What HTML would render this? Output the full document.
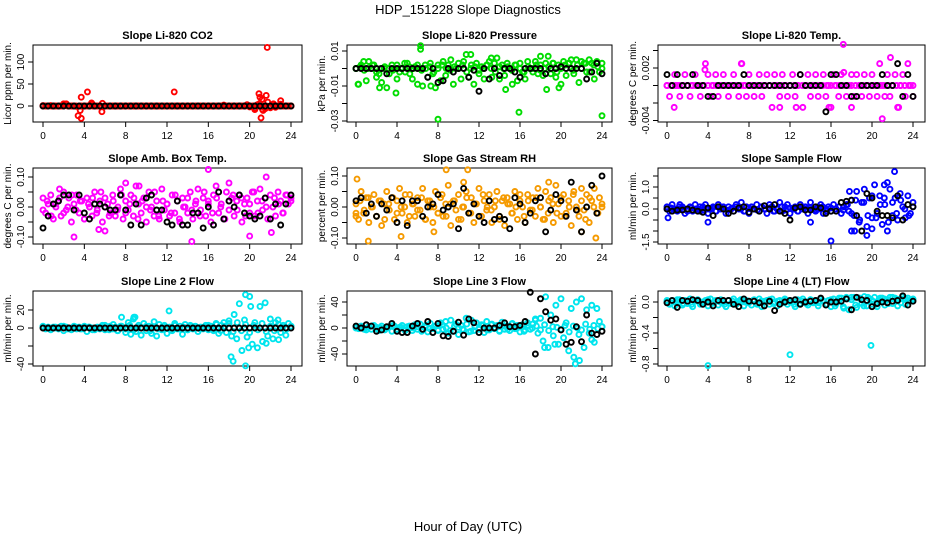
<!DOCTYPE html>
<html><head><meta charset="utf-8"><style>
html,body{margin:0;padding:0;background:#fff;}
svg{display:block;font-family:"Liberation Sans",Arial,sans-serif;}
</style></head><body>
<svg id="chart" width="936" height="540" viewBox="0 0 936 540">
<text x="468" y="14" text-anchor="middle" font-size="13">HDP_151228  Slope Diagnostics</text>
<text x="468" y="531" text-anchor="middle" font-size="13">Hour of Day (UTC)</text>
</svg>
<script>
// ---- data (values per panel; hours spread evenly over 0-24 for regular series) ----
const xTicks = [0,4,8,12,16,20,24];

const co2Vals = [1,0,0,1,0,0,0,0,3,5,0,0,0,-1,0,0,0,0,0,4,0,0,0,6,0,0,0,0,0,0,0,0,0,0,0,0,0,0,0,0,0,0,0,0,0,0,0,0,0,0,0,0,0,0,0,0,0,0,0,0,0,0,0,0,0,0,0,0,0,0,2,0,0,0,0,0,0,0,0,3,-2,0,-5,3,6,-8,-6,9,-4,3,-3,0,4,0,0,0,0];
const co2Vals2 = [0,0,0,0,0,0,0,0,0,0,0,0,0,0,0,0,0,0,0,0,0,0,0,0,0,0,0,0,0,0,0,0,0,0,0,0,0,0,0,0,0,0,0,0,0,0,0,0,0,0,0,0,0,0,0,0,0,0,0,0,0];
const co2OutHours = [3.4,3.6,3.7,3.7,4.3,4.7,5.7,2.0,12.7,20.9,21.0,21.1,21.2,21.3,21.6,21.7,23.0,20.5,21.5,22.3];
const co2OutVals = [-22,-10,-28,20,32,7,-13,5,32,28,20,-27,15,-10,24,133,12,-8,-5,5];
const co2RefVals = [0,0,0,0,0,0,0,0,0,0,0,0,0,0,0,0,0,0,0,0,0,0,0,0,0,0,0,0,0,0,0,0,0,0,0,0,0,0,0,0,0,0,0,0,0,0,0,0,0];

const presVals = [0,-0.009,0.002,0.004,-0.007,0.004,0,0.002,-0.005,-0.003,-0.008,0,-0.011,-0.003,0.002,0,-0.006,-0.002,0,0.003,0.003,-0.003,-0.006,0.001,-0.009,0,-0.01,0.002,-0.005,0.003,-0.003,-0.011,0.002,-0.007,0.004,-0.004,0.002,0.005,-0.009,0,0.003,-0.006,0.004,0.008,-0.005,0.002,-0.009,0.003,-0.003,0.001,-0.006,0.002,0.004,-0.005,0.003,0.006,-0.006,0.002,-0.004,0.003,0,-0.009,0.002,-0.007,0.003,-0.002,-0.006,0.004,0,-0.002,0.004,-0.003,0.002,-0.004,0.003,0.007,-0.003,0.003,-0.005,0.002,-0.009,0.004,-0.004,0.003,0.005,-0.003,0.005,-0.008,0.004,0.003,-0.002,0.005,0.003,-0.006,0.004,-0.002,0.003];
const presVals2 = [0,0.001,-0.001,0,0.002,-0.002,0,0.001,0,-0.001,0.002,0,-0.002,0.001,0,0.002,-0.001,0,0.001,-0.002,0,0.002,0,-0.001,0.001,0,0.002,-0.002,0,0.001,-0.001,0,0.002,0,-0.002,0.001,0,0.001,-0.001,0.002,0,-0.002,0.001,0,0.002,-0.001,0,0.001,0.003,-0.002,0,0.002,0.003,-0.001,0.002,0,0.003,-0.002,0.002,0.001,0];
const presOutHours = [6.3,6.3,8.0,15.9,24.0,3.9,11.2,18.0,13.2,0.2,2.3,18.6,19.8,7.3,14.6];
const presOutVals = [0.013,0.011,-0.029,-0.025,-0.027,-0.014,0.008,0.007,0.006,-0.009,-0.011,-0.012,-0.011,-0.010,-0.012];
const presRefVals = [0,0,0,0,0,0,-0.003,0,0,0,0,0,0,0,-0.005,0,-0.008,-0.007,0,-0.002,0,0,-0.005,-0.001,-0.013,0,-0.006,0,-0.004,0,0,-0.002,-0.005,0,0,0,0,-0.003,0,0,0.001,0,0,0,0,-0.006,-0.002,0.003,-0.003];

const tempVals = [0,-0.00125,0,0.00125,0,-0.00125,0,0.00125,0,-0.00125,0,0.00125,0,-0.00125,0,0.0025,0.00125,-0.00125,0,0.00125,-0.00125,0,0.00125,0,-0.00125,0,0.00125,0,-0.00125,0.0025,0,-0.00125,0.00125,0,-0.00125,0,0.00125,-0.00125,0,0.00125,0,-0.0025,0.00125,0,-0.00125,0.00125,0,-0.00125,0,0.00125,-0.00125,0,0.00125,-0.0025,0,0.00125,-0.00125,0,0.00125,-0.00125,0,0.00125,-0.00125,0,-0.0025,0.00125,0,-0.00125,0.00125,0.0015,-0.00125,0,0.00125,-0.00125,0.00125,0,-0.00125,0.00125,0,-0.00125,0.00125,0,-0.00125,0.0025,0,-0.00125,0.00125,-0.00125,0,0.00125,-0.0025,0,0.00125,-0.00125,0.0025,0,-0.00125];
const tempVals2 = [0,0,0,0,0,0,0,0,0,0,0,0,0,0,0,0,0,0,0,0,0,0,0,0,0,0,0,0,0,0,0,0,0,0,0,0,0,0,0,0,0,0,0,0,0,0,0,0,0,0,0,0,0,0,0,0,0,0,0,0,0];
const tempOutHours = [17.2,21.0,21.8,0.7,11.0,12.6,15.8,18.0,22.6,7.3,3.7];
const tempOutVals = [0.0047,-0.0038,0.0032,-0.0025,-0.0025,-0.0025,-0.0025,-0.0025,-0.0025,0.0025,0.0018];
const tempRefVals = [0.00125,0,0.00125,0,0,0.00125,0,0,-0.00125,-0.00125,0,0,0,0,0,0.00125,0,0,0,0,0,0,0,0,0,0,0.00125,0,0,0,0,-0.003,0.00125,0.00125,0,0,-0.00125,-0.00125,0,0,0,0,0.00125,0,0,0.0025,-0.00125,0.00125,-0.00125];

const ambVals = [0.03,-0.02,0.01,0.04,-0.04,0,0.02,-0.03,0.05,-0.01,0.03,-0.05,0.01,0.04,-0.02,0.02,-0.04,0.03,0,-0.03,0.05,-0.01,0.02,-0.05,0.03,0.01,-0.02,0.04,-0.03,0,0.06,-0.04,0.02,-0.01,0.04,-0.03,0.07,0.01,-0.02,0.03,-0.05,0.05,0,-0.03,0.02,-0.04,0.06,-0.01,0.01,-0.03,0.04,-0.02,0.02,-0.05,0.03,0,-0.02,0.05,-0.04,0.01,0.06,-0.01,0.03,-0.03,0.02,-0.05,0.04,0.07,-0.02,0.01,-0.04,0.05,-0.01,0.03,-0.03,0.02,0.04,-0.05,0.01,0.03,-0.02,0.05,-0.03,0.02,0.06,-0.01,0.03,-0.04,0.04,0,-0.03,0.05,0.02,-0.02,0.04,0.01,0.03];
const ambVals2 = [-0.01,0.02,-0.03,0.01,0.03,-0.02,0,0.04,-0.01,0.02,-0.04,0.01,0.03,-0.02,0.05,0,-0.03,0.02,-0.01,0.04,-0.02,0.01,0.03,-0.04,0.02,0,-0.01,0.05,-0.03,0.02,0.01,-0.02,0.04,-0.04,0,0.03,-0.01,0.02,-0.03,0.05,0.01,-0.02,0.03,0,-0.04,0.02,0.04,-0.01,0.03,-0.03,0.01,0.05,-0.02,0.02,0,-0.04,0.03,0.01,-0.02,0.04,0.02];
const ambOutHours = [16.0,21.6,3.0,20.0,14.4,22.1,5.4,6.0,8.0,9.3,18.0,1.6];
const ambOutVals = [0.125,0.10,-0.10,-0.097,-0.115,-0.085,-0.075,-0.08,0.08,0.07,0.08,0.06];
const ambRefVals = [-0.07,-0.03,0.01,0.02,0.04,0.04,-0.01,0.04,-0.02,-0.04,0.01,0.01,0,-0.01,-0.01,0.04,-0.01,-0.06,0.01,-0.06,0.03,0.04,-0.01,-0.01,-0.05,-0.06,0.02,-0.06,-0.06,-0.02,-0.02,-0.07,0,-0.06,0.05,-0.04,0.02,0,0.04,-0.02,-0.03,-0.04,-0.03,0.03,-0.04,0.01,-0.06,0.01,0.04];

const rhVals = [0.01,-0.04,0.05,-0.02,0.03,-0.05,0,0.04,-0.03,0.02,-0.06,0.01,0.05,-0.01,0.03,-0.04,0.02,0.06,-0.02,0,-0.05,0.04,0.01,-0.03,0.03,-0.01,0.06,-0.04,0.02,0,-0.05,0.05,-0.02,0.03,-0.03,0.01,0.07,-0.06,0.02,-0.01,0.04,-0.04,0,0.05,-0.02,0.03,-0.05,0.01,0.06,-0.03,0.02,-0.01,0.04,-0.05,0,0.05,-0.03,0.02,-0.06,0.03,0.01,-0.02,0.05,-0.04,0.02,0,-0.05,0.04,-0.01,0.03,-0.03,0.06,0,-0.04,0.05,-0.02,0.03,-0.05,0.07,0.01,-0.03,0.04,-0.02,0.02,-0.06,0.05,0,-0.03,0.06,-0.01,0.04,-0.05,0.02,0.06,-0.02,0.03,0];
const rhVals2 = [-0.02,0.02,-0.01,0.03,0,-0.03,0.02,-0.04,0.01,0.03,-0.02,0,0.04,-0.03,0.01,-0.01,0.03,-0.04,0.02,0,-0.02,0.04,-0.03,0.01,0.02,-0.04,0,0.03,-0.02,0.01,-0.03,0.04,0,-0.01,0.02,-0.04,0.03,0.01,-0.02,0,0.04,-0.03,0.02,-0.01,0.03,0,-0.04,0.02,0.01,-0.02,0.03,-0.03,0,0.04,-0.01,0.02,-0.04,0.03,0,-0.02,0.01];
const rhOutHours = [0.1,8.8,10.9,1.2,23.4,4.4,7.6,0,10.5,22.0,18.8];
const rhOutVals = [0.09,0.12,0.12,-0.11,-0.10,-0.095,-0.08,-0.03,0.08,-0.08,0.08];
const rhRefVals = [0.02,0.03,-0.02,0.01,-0.03,0.01,-0.01,0.03,-0.05,0.02,-0.06,0.02,0.02,-0.03,0,0.01,0.04,-0.01,0,0.01,-0.07,0.06,-0.02,0.01,-0.03,-0.05,0.02,-0.04,-0.03,-0.04,-0.07,0.03,0.01,-0.05,-0.02,0.02,0.03,-0.08,-0.01,0.04,0.02,-0.03,0.08,-0.01,-0.08,0,0.07,-0.02,0.10];

const flowVals = [0.1,-0.1,0.2,0,-0.1,0.2,0.1,-0.2,0,0.1,-0.1,0.2,0,-0.1,0.1,0.2,-0.2,0,0.1,-0.1,0.2,0,0.1,-0.2,0.1,0,-0.1,0.2,0,0.3,-0.1,0.1,-0.2,0.1,0,0.2,-0.1,0.1,0,-0.2,0.2,0.1,-0.1,0,0.3,-0.1,0.1,0.2,-0.2,0,0.1,-0.1,0.2,0,0.1,-0.2,0.3,0,-0.1,0.1,0.2,-0.2,0,0.1,-0.1,0.2,0,0.1,-0.2,0.1,0.2,-0.1,0.4,-0.3,0.8,-0.6,0.3,0.9,-0.8,0.5,-0.4,1.1,-0.2,0.6,-0.7,0.2,-1.0,0.9,-0.3,0.5,-0.5,0.7,0.1,-0.4,0.6,-0.2,0.3];
const flowVals2 = [0,0.05,-0.05,0.1,0,-0.1,0.05,0,0.1,-0.05,0,0.05,-0.1,0.1,0,-0.05,0.05,0.1,0,-0.1,0.05,0,-0.05,0.1,0,0.05,-0.1,0,0.1,-0.05,0.05,0,-0.1,0.1,0,0.05,-0.05,0,0.1,-0.1,0.05,0,0.1,-0.05,0.2,-0.2,0.4,-0.5,0.3,-0.3,0.6,-0.4,0.2,0.5,-0.6,0.3,-0.2,0.4,0,-0.3,0.1];
const flowOutHours = [16.0,22.2,18.0,18.3,21.2,21.5,19.5,0.1,4.0,14.0,20.0,17.8];
const flowOutVals = [-1.45,1.7,-1.0,-1.0,1.1,1.2,-1.2,-0.4,-0.6,-0.6,-0.9,0.8];
const flowRefVals = [0,-0.1,-0.05,-0.05,0,-0.05,-0.1,-0.15,0.05,-0.3,0.1,0,-0.2,-0.1,0.05,0.1,-0.15,0,-0.1,0.15,0,0.2,-0.1,-0.2,-0.5,0.05,0.1,-0.05,-0.05,0.1,0.05,-0.2,-0.1,-0.1,0.3,0.35,0.4,-0.3,-1.0,0.7,0.5,-0.1,-0.3,-0.3,-0.4,0.6,-0.5,0.2,0.1];

const line2Vals = [2,-1,1,-2,1,0,-1,2,-3,1,0,-2,2,-1,1,-1,2,-4,1,0,-2,1,-1,3,-2,0,2,-1,1,-3,2,0,-5,6,-7,10,-4,3,-8,5,-3,2,-6,7,-9,4,-2,3,-6,1,-3,5,-1,2,-7,4,-2,3,-1,2,-4,1,-1,3,-2,2,-3,5,-6,3,6,-5,8,-9,15,-12,27,-25,9,-10,35,-18,6,-22,24,-15,28,-9,10,-12,6,9,-5,3,-8,5,2];
const line2Vals2 = [1,0,-1,1,0,2,-1,0,1,-1,0,1,-2,0,1,3,-2,4,-3,2,-1,3,-2,1,0,2,-3,1,-1,2,0,-2,3,-1,1,-2,2,0,-1,1,3,-2,4,-3,2,5,-4,6,-3,4,-5,3,-2,5,-4,2,-3,4,1,-1,2];
const line2OutHours = [8.8,8.9,12.2,7.6,18.2,19.6,19.9,20.1,21.6,22.8,18.4,19.6];
const line2OutVals = [12,12,19,12,-32,37,-22,24,-17,-13,-37,-42];
const line2RefVals = [0,0,0,0,0,0,0,0,0,0,0,0,0,0,0,0,0,0,0,0,0,0,0,0,0,0,0,0,0,0,0,0,0,0,0,0,0,0,0,0,0,0,0,0,0,0,0,0,0];

const line3Vals = [2,-1,3,0,-3,2,-2,4,1,-4,3,-1,0,2,-5,3,-2,1,4,-3,2,0,-4,5,-2,6,-3,1,-6,7,-1,3,-4,8,-2,10,-8,12,-5,6,-10,4,-3,15,-6,12,-4,8,-2,5,-7,10,-3,6,-1,4,-5,9,-2,3,-4,7,-1,4,-6,5,-3,8,-2,6,12,-8,15,-20,48,-30,20,-12,35,-25,45,-15,8,-35,30,-45,40,-10,45,-30,28,-8,35,-22,30,10,2];
const line3Vals2 = [0,2,-2,1,3,-1,0,-3,2,4,-2,1,-4,3,0,2,-5,4,-1,2,-3,5,0,-4,3,1,-2,6,-5,2,-1,4,-3,5,0,-4,3,-2,6,-1,2,-5,4,0,3,-3,5,-4,2,1,-2,4,-6,3,0,-3,6,-2,4,-1,2];
const line3OutHours = [21.4,21.8,18.4,19.4,17.5,23.0];
const line3OutVals = [-55,-50,-30,-25,14,-18];
const line3RefVals = [3,0,5,3,-5,-3,2,7,-5,-7,-7,3,7,-2,10,-7,7,-12,-13,-5,9,-11,14,8,-7,0,0,0,4,8,2,2,4,10,55,-40,45,25,12,14,-3,-25,-22,2,-21,20,-8,-10,-5];

const lt4Vals = [0,-0.03,0.02,-0.05,0.03,0,-0.04,0.02,-0.02,0.04,-0.06,0.01,0.03,-0.03,0,0.02,-0.05,0.04,-0.01,0.02,-0.04,0.03,0,-0.06,0.02,-0.02,0.04,-0.03,0.01,0.03,-0.05,0.02,0,-0.04,0.03,-0.02,0.04,-0.06,0.01,0.02,-0.03,0.04,0,-0.05,0.02,-0.01,0.04,-0.03,0.02,0,-0.06,0.03,-0.02,0.04,0,-0.04,0.03,-0.01,0.02,-0.05,0.04,0.01,-0.03,0.02,-0.06,0.04,-0.02,0.01,0.05,-0.08,0.06,-0.1,0.03,0.06,-0.07,0.05,-0.02,0.07,-0.05,0.04,-0.03,0.06,-0.06,0.02,0.05,-0.04,0.03,0.06,-0.02,0.05,-0.05,0.04,0.07,-0.03,0.05,0.01,0.03];
const lt4Vals2 = [0.02,-0.01,0,0.03,-0.02,0.01,-0.03,0.02,0,-0.01,0.03,-0.02,0.01,0,-0.03,0.02,0.01,-0.02,0.03,0,-0.01,0.02,-0.03,0.01,0,0.03,-0.02,0.01,-0.01,0.02,0,-0.03,0.02,0.01,-0.02,0.03,0,-0.01,0.02,-0.03,0.03,-0.05,0.05,-0.06,0.04,0.06,-0.04,0.05,-0.05,0.06,0.02,-0.03,0.05,0.04,-0.02,0.06,0.03,-0.01,0.05,0.02,0.04];
const lt4OutHours = [4.0,12.0,19.9];
const lt4OutVals = [-0.82,-0.68,-0.56];
const lt4RefVals = [-0.01,0.02,-0.07,0.02,0.01,0.03,0.02,-0.03,0,-0.05,0.02,0.02,0.02,-0.03,-0.06,0.04,0.01,0.01,-0.01,-0.05,0.01,-0.11,-0.03,0,0.02,0.03,-0.03,0,0.01,0.02,0.05,-0.04,0,0,0.01,0.04,-0.1,0.06,0.03,0.02,-0.06,-0.02,0,-0.01,0.01,0.02,0.08,-0.04,0.01];

// ---- layout ----
const svg = document.getElementById('chart');
const NS = 'http://www.w3.org/2000/svg';
function mk(tag, attrs, parent){ const e=document.createElementNS(NS,tag); for(const k in attrs) e.setAttribute(k,attrs[k]); (parent||svg).appendChild(e); return e; }

const cols = [{L:33,R:302,x0:43,x1:291},{L:347,R:612,x0:356,x1:602},{L:658,R:925,x0:667,x1:913}];
const rows = [{T:45,B:122},{T:168,B:244},{T:291,B:366}];

function panel(name, title, ylab, col, row, yv0, yp0, yv1, yp1, ticks, labels){
  const c=cols[col], r=rows[row];
  const g=mk('g',{});
  
  
  const sx=h=>c.x0+(c.x1-c.x0)*h/24;
  const sy=v=>yp0+(v-yv0)*(yp1-yp0)/(yv1-yv0);
  const t=mk('text',{x:(c.L+c.R)/2,y:r.T-6,'text-anchor':'middle','font-size':11,'font-weight':'bold'},g);
  t.textContent=title;
  
  
  const box=mk('rect',{x:c.L,y:r.T,width:c.R-c.L,height:r.B-r.T,fill:'none',stroke:'#000','stroke-width':1},g);
  
  
  xTicks.forEach(h=>{
    mk('line',{x1:sx(h),x2:sx(h),y1:r.B,y2:r.B+5,stroke:'#000'},g);
    const tl=mk('text',{x:sx(h),y:r.B+17,'text-anchor':'middle','font-size':10},g);
    tl.textContent=h;
    
    
  });
  ticks.forEach((v,i)=>{
    const y=sy(v);
    mk('line',{x1:c.L-5,x2:c.L,y1:y,y2:y,stroke:'#000'},g);
    if(labels[i]!==''){
      const yl=mk('text',{x:0,y:0,'text-anchor':'middle','font-size':10,transform:`translate(${c.L-9},${y}) rotate(-90)`},g);
      yl.textContent=labels[i];
      
      
    }
  });
  const yt=mk('text',{x:0,y:0,'text-anchor':'middle','font-size':10,transform:`translate(${c.L-22},${(r.T+r.B)/2}) rotate(-90)`},g);
  yt.textContent=ylab;
  
  
  return {g,sx,sy};
}
function series(p, vals, color, name, hours){
  const sg=mk('g',{fill:'none',stroke:color,'stroke-width':1.9},p.g);
  
  
  vals.forEach((v,i)=>{
    const h = hours ? hours[i] : i*24/(vals.length-1);
    const pt=mk('circle',{cx:p.sx(h),cy:p.sy(v),r:2.5},sg);
    
    
  });
}
function build(name,title,ylab,col,row,yv0,yp0,yv1,yp1,ticks,labels,color,vals,vals2,outH,outV,ref){
  const p=panel(name,title,ylab,col,row,yv0,yp0,yv1,yp1,ticks,labels);
  series(p,vals,color,name+'-series');
  series(p,vals2,color,name+'-series-b');
  series(p,outV,color,name+'-outliers',outH);
  series(p,ref,'#000',name+'-reference');
}
const mag='#ff00ff', cyan='#00e5ee';
build('co2','Slope Li-820 CO2','Licor ppm per min.',0,0,0,106,100,62,[0,50,100],['0','50','100'],'#ff0000',co2Vals,co2Vals2,co2OutHours,co2OutVals,co2RefVals);
build('pressure','Slope Li-820 Pressure','kPa per min.',1,0,0.01,51,-0.01,86,[0.01,0,-0.01,-0.02,-0.03],['0.01','','-0.01','','-0.03'],'#00dd00',presVals,presVals2,presOutHours,presOutVals,presRefVals);
build('li820-temp','Slope Li-820 Temp.','degrees C per min.',2,0,0,85.5,0.002,68,[-0.004,-0.002,0,0.002,0.004],['-0.004','','','0.002',''],mag,tempVals,tempVals2,tempOutHours,tempOutVals,tempRefVals);
build('amb-box-temp','Slope Amb. Box Temp.','degrees C per min.',0,1,0,207,0.1,177,[-0.1,-0.05,0,0.05,0.1],['-0.10','','0.00','','0.10'],mag,ambVals,ambVals2,ambOutHours,ambOutVals,ambRefVals);
build('gas-stream-rh','Slope Gas Stream RH','percent per min.',1,1,0,207,0.1,176,[-0.1,-0.05,0,0.05,0.1],['-0.10','','0.00','','0.10'],'#f59a00',rhVals,rhVals2,rhOutHours,rhOutVals,rhRefVals);
build('sample-flow','Slope Sample Flow','ml/min per min.',2,1,0,209,1,187,[-1.5,-1,-0.5,0,0.5,1,1.5],['-1.5','','','0.0','','1.0',''],'#0000ff',flowVals,flowVals2,flowOutHours,flowOutVals,flowRefVals);
build('line2-flow','Slope Line 2 Flow','ml/min per min.',0,2,0,328,20,310,[-40,-20,0,20],['-40','','0','20'],cyan,line2Vals,line2Vals2,line2OutHours,line2OutVals,line2RefVals);
build('line3-flow','Slope Line 3 Flow','ml/min per min.',1,2,0,328,40,302,[-40,-20,0,20,40],['-40','','0','','40'],cyan,line3Vals,line3Vals2,line3OutHours,line3OutVals,line3RefVals);
build('line4-flow','Slope Line 4 (LT) Flow','ml/min per min.',2,2,0,302,-0.4,333,[-0.8,-0.6,-0.4,-0.2,0],['-0.8','','-0.4','','0.0'],cyan,lt4Vals,lt4Vals2,lt4OutHours,lt4OutVals,lt4RefVals);
</script>
</body></html>
